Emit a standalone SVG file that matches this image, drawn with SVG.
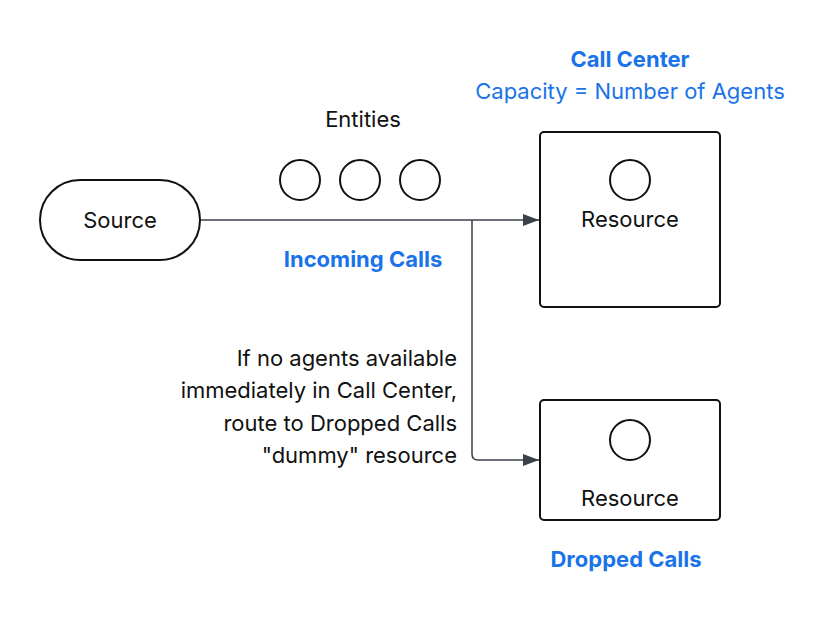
<svg xmlns="http://www.w3.org/2000/svg" width="831" height="617" viewBox="0 0 831 617">
<style>
text{font-family:Inter,"Noto Sans","Liberation Sans",sans-serif;font-size:22px;fill:#111}
.c{text-anchor:middle}
.r{text-anchor:end}
.b{fill:#1a73e8;font-weight:700}
.bl{fill:#1a73e8}
.n{fill:#fff;stroke:#111;stroke-width:2}
.e{stroke:#3b4049;stroke-width:1.5;fill:none}
</style>
<defs>
<marker id="ah" viewBox="0 0 10 10" refX="10" refY="5" markerWidth="16" markerHeight="12" markerUnits="userSpaceOnUse" orient="auto" preserveAspectRatio="none">
<path d="M0,0 L10,5 L0,10 z" fill="#3b4049"/>
</marker>
</defs>
<rect width="831" height="617" fill="#fff"/>
<g id="connectors">
<path class="e" d="M200,220 H539" marker-end="url(#ah)"/>
<path class="e" d="M472,220 V454 Q472,460 478,460 H539" stroke="#7a7f88" marker-end="url(#ah)"/>
</g>
<g id="source">
<rect class="n" x="40" y="180" width="160" height="80" rx="40"/>
<text class="c" x="120" y="228">Source</text>
</g>
<g id="entities">
<text class="c" x="363" y="127">Entities</text>
<circle class="n" cx="300" cy="180" r="20"/>
<circle class="n" cx="360" cy="180" r="20"/>
<circle class="n" cx="420" cy="180" r="20"/>
</g>
<g id="incoming-label">
<text class="c b" x="363" y="267">Incoming Calls</text>
</g>
<g id="call-center">
<text class="c b" x="630" y="67">Call Center</text>
<text class="c bl" x="630" y="99">Capacity = Number of Agents</text>
<rect class="n" x="540" y="132" width="180" height="175" rx="4"/>
<circle class="n" cx="630" cy="180" r="20"/>
<text class="c" x="630" y="227">Resource</text>
</g>
<g id="dropped-calls">
<rect class="n" x="540" y="400" width="180" height="120" rx="4"/>
<circle class="n" cx="630" cy="440" r="20"/>
<text class="c" x="630" y="506">Resource</text>
<text class="c b" x="626" y="567">Dropped Calls</text>
</g>
<g id="route-label">
<text class="r" x="457" y="366">If no agents available</text>
<text class="r" x="457" y="398">immediately in Call Center,</text>
<text class="r" x="457" y="431">route to Dropped Calls</text>
<text class="r" x="457" y="463">"dummy" resource</text>
</g>
</svg>
